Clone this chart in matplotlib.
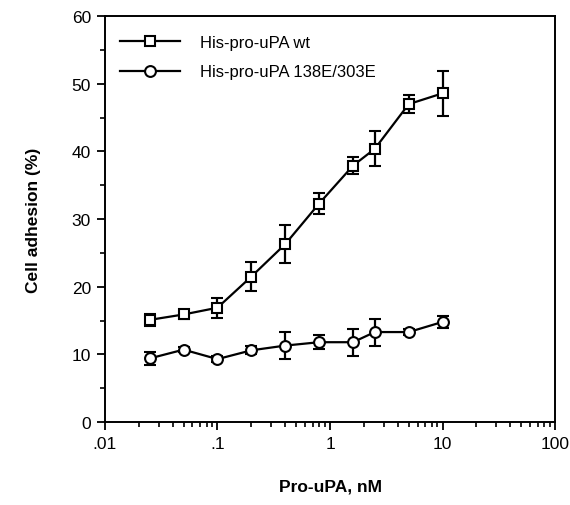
import matplotlib
matplotlib.use("Agg")
import matplotlib.pyplot as plt
from matplotlib.ticker import FixedLocator, NullFormatter, LogLocator
from matplotlib.lines import Line2D

plt.rcParams['font.family'] = ['Liberation Sans', 'DejaVu Sans']

conc = [0.025, 0.05, 0.1, 0.2, 0.4, 0.8, 1.6, 2.5, 5, 10]
wt_mean = [15.1, 15.9, 16.9, 21.5, 26.3, 32.3, 37.9, 40.4, 47.0, 48.6]
wt_err = [0.9, 0.7, 1.5, 2.1, 2.8, 1.5, 1.3, 2.6, 1.3, 3.3]
mut_mean = [9.4, 10.7, 9.3, 10.6, 11.3, 11.8, 11.8, 13.3, 13.3, 14.8]
mut_err = [0.9, 0.4, 0.4, 0.6, 2.0, 1.0, 2.0, 2.0, 0.4, 0.9]
labels = ["His-pro-uPA wt", "His-pro-uPA 138E/303E"]
xticks = [0.01, 0.1, 1, 10, 100]
xticklabels = [".01", ".1", "1", "10", "100"]
yticks = [0, 10, 20, 30, 40, 50, 60]

fig = plt.figure(figsize=(5.70, 5.06), dpi=100)
ax = fig.add_axes([0.184, 0.164, 0.790, 0.802])

style = dict(color='black', lw=1.6, markerfacecolor='white', markeredgecolor='black',
             markeredgewidth=1.5, markersize=7.8)
ax.errorbar(conc, wt_mean, yerr=wt_err, marker='s', capsize=4.5, capthick=1.6,
            elinewidth=1.6, **style)
ax.errorbar(conc, mut_mean, yerr=mut_err, marker='o', capsize=4.5, capthick=1.6,
            elinewidth=1.6, **style)

ax.set_xscale('log')
ax.set_xlim(0.01, 100)
ax.set_ylim(0, 60)
ax.set_xticks(xticks)
ax.set_xticklabels(xticklabels)
ax.xaxis.set_minor_locator(LogLocator(base=10, subs=range(2, 10)))
ax.xaxis.set_minor_formatter(NullFormatter())
ax.set_yticks(yticks)
ax.yaxis.set_minor_locator(FixedLocator([5, 15, 25, 35, 45, 55]))

ax.tick_params(which='major', direction='out', length=6, width=1.3, labelsize=12.5, pad=4)
ax.tick_params(which='minor', direction='out', length=3.5, width=1.2)
for s in ax.spines.values():
    s.set_linewidth(1.4)

ax.set_xlabel("Pro-uPA, nM", fontsize=12.5, fontweight='bold', labelpad=20)
ax.set_ylabel("Cell adhesion (%)", fontsize=12.5, fontweight='bold', labelpad=22)

handles = [Line2D([], [], marker='s', **style), Line2D([], [], marker='o', **style)]
ax.legend(handles, labels, loc='upper left', bbox_to_anchor=(0.0, 0.99), frameon=False,
          fontsize=12, handlelength=3.6, handletextpad=1.2, labelspacing=0.85)

fig.savefig("out.png", dpi=100)
